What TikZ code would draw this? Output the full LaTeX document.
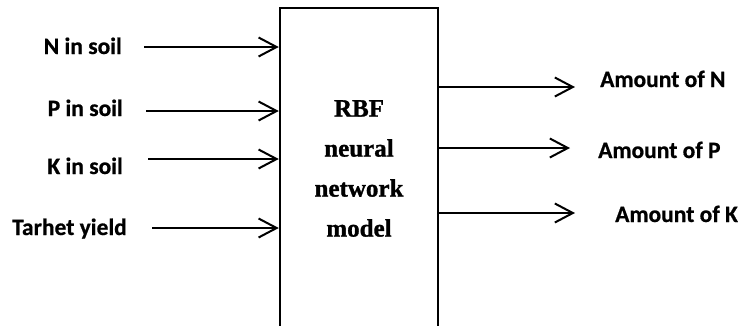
\documentclass[tikz,border=0pt]{standalone}
\usepackage{fontspec}
\setmainfont{Liberation Serif}[BoldFont={Liberation Serif Bold}]
\newfontfamily\lblfont{Carlito Bold}[FakeBold=0.6]
\newfontfamily\boxfont{Liberation Serif Bold}[FakeBold=1.2]
\usetikzlibrary{arrows.meta}
\begin{document}
\begin{tikzpicture}[x=1pt,y=-1pt,
  lbl/.style={font=\lblfont\fontsize{23.5}{28}\selectfont,inner sep=0pt},
  arr/.style={line width=2pt,-{Straight Barb[length=18pt,width=19pt,line width=2pt]}},
  modelbox/.style={draw,line width=2.5pt,minimum width=158pt,minimum height=321pt,inner sep=0pt,
    align=center,font=\boxfont\fontsize{25}{40}\selectfont}]
\useasboundingbox (0,0) rectangle (739,325);
\node[modelbox] (box) at (359,168.5) {RBF\\neural\\network\\model};
% input labels
\node[lbl,anchor=base east] (nlab) at (122,54) {N in soil};
\node[lbl,anchor=base east] (plab) at (123,116) {P in soil};
\node[lbl,anchor=base east] (klab) at (123,174) {K in soil};
\node[lbl,anchor=base east] (tlab) at (127,235) {Tarhet yield};
% output labels
\node[lbl,anchor=base west] (onlab) at (600,87) {Amount of N};
\node[lbl,anchor=base west] (oplab) at (598,158) {Amount of P};
\node[lbl,anchor=base west] (oklab) at (615,222) {Amount of K};
% input arrow starts
\coordinate (n0) at (144,47);
\coordinate (p0) at (146,111);
\coordinate (k0) at (148,159);
\coordinate (t0) at (152,228);
\draw[arr] (n0) -- (n0 -| box.west);
\draw[arr] (p0) -- (p0 -| box.west);
\draw[arr] (k0) -- (k0 -| box.west);
\draw[arr] (t0) -- (t0 -| box.west);
% output arrow ends
\coordinate (n1) at (575,87);
\coordinate (p1) at (570,148);
\coordinate (k1) at (575,213);
\draw[arr] (box.east |- n1) -- (n1);
\draw[arr] (box.east |- p1) -- (p1);
\draw[arr] (box.east |- k1) -- (k1);
\end{tikzpicture}
\end{document}
